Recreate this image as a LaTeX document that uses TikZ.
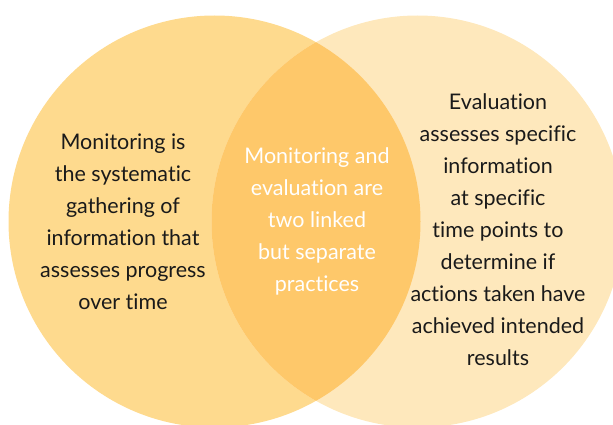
\documentclass[tikz,border=0pt]{standalone}
\usepackage{fontspec}
\setmainfont{Lato}[Ligatures=NoCommon]
\definecolor{leftc}{RGB}{254,218,142}
\definecolor{rightc}{RGB}{254,232,188}
\definecolor{midc}{RGB}{254,200,106}
\definecolor{ink}{RGB}{26,26,26}
\begin{document}
\begin{tikzpicture}[x=1pt,y=-1pt,
  txt/.style={align=center, font=\fontsize{21.5}{32}\selectfont, text=ink, inner sep=0pt}]
\useasboundingbox (0,0) rectangle (613,425);
\clip (0,0) rectangle (613,425);
\fill[leftc] (214.5,221.5) circle (206pt);
\fill[rightc] (417.5,221.5) circle (206pt);
\begin{scope}
  \clip (214.5,221.5) circle (206pt);
  \fill[midc] (417.5,221.5) circle (206pt);
\end{scope}
\node[txt] (mon) at (123,222) {Monitoring is\\the systematic\\gathering of\\information that\\assesses progress\\over time};
\node[txt, text=white] (mid) at (317,221.5) {Monitoring and\\evaluation are\\two linked\\but separate\\practices};
\node[txt] (eval) at (498,229.5) {Evaluation\\assesses specific\\information\\at specific\\time points to\\determine if\\actions taken have\\achieved intended\\results};
\end{tikzpicture}
\end{document}
